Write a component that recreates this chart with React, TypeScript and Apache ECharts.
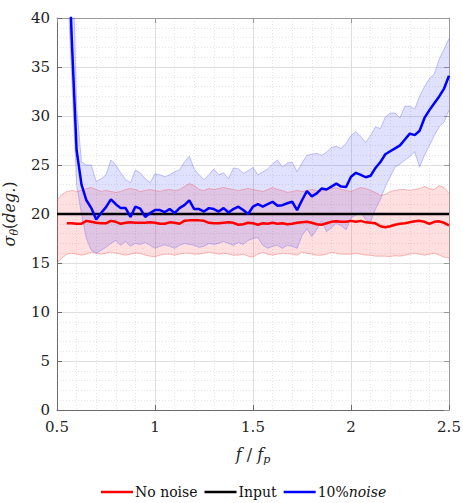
import React, { useEffect, useRef } from 'react';
import * as echarts from 'echarts';

const freqRatio = [
  0.5, 0.525, 0.55, 0.575, 0.6, 0.625, 0.65, 0.675, 0.7, 0.725,
  0.75, 0.775, 0.8, 0.825, 0.85, 0.875, 0.9, 0.925, 0.95, 0.975,
  1.0, 1.025, 1.05, 1.075, 1.1, 1.125, 1.15, 1.175, 1.2, 1.225,
  1.25, 1.275, 1.3, 1.325, 1.35, 1.375, 1.4, 1.425, 1.45, 1.475,
  1.5, 1.525, 1.55, 1.575, 1.6, 1.625, 1.65, 1.675, 1.7, 1.725,
  1.75, 1.775, 1.8, 1.825, 1.85, 1.875, 1.9, 1.925, 1.95, 1.975,
  2.0, 2.025, 2.05, 2.075, 2.1, 2.125, 2.15, 2.175, 2.2, 2.225,
  2.25, 2.275, 2.3, 2.325, 2.35, 2.375, 2.4, 2.425, 2.45, 2.475,
  2.5,
];

const noNoiseMean = [
  null, null, 19.05, 19.05, 19.0, 19.0, 19.3, 19.2, 19.1, 19.05,
  19.05, 19.3, 19.2, 19.0, 19.1, 19.15, 19.1, 19.1, 19.1, 19.15,
  19.1, 19.0, 19.0, 19.15, 19.1, 19.0, 19.3, 19.35, 19.35, 19.35,
  19.3, 19.1, 19.05, 19.05, 19.1, 19.15, 19.1, 18.9, 18.95, 19.1,
  19.05, 18.9, 19.05, 19.0, 19.1, 19.0, 19.05, 18.95, 19.0, 19.1,
  19.15, 19.2, 19.1, 18.95, 18.9, 19.05, 19.2, 19.25, 19.2, 19.2,
  19.3, 19.2, 19.3, 19.15, 19.1, 19.05, 18.75, 18.65, 18.75, 18.9,
  19.0, 19.05, 19.15, 19.25, 19.3, 19.2, 19.0, 19.2, 19.25, 19.1,
  18.85,
];
const noNoiseUpper = [
  21.4, 22.0, 22.3, 22.4, 22.3, 22.4, 22.6, 22.7, 22.5, 22.3,
  22.4, 22.3, 22.2, 22.3, 22.5, 22.6, 22.5, 22.3, 22.4, 22.5,
  22.4, 22.3, 22.45, 22.5, 22.4, 22.5, 22.8, 23.1, 22.9, 22.5,
  22.4, 22.6, 22.5, 22.6, 22.7, 22.6, 22.5, 22.4, 22.5, 22.6,
  22.5, 22.4, 22.3, 22.5, 22.7, 22.5, 22.4, 22.2, 22.3, 22.4,
  22.3, 22.4, 22.5, 22.4, 22.3, 22.5, 22.6, 22.7, 22.5, 22.4,
  22.3, 22.5, 22.7, 22.6, 22.4, 22.2, 21.9, 22.0, 22.3, 22.4,
  22.5, 22.5, 22.4, 22.5, 22.6, 22.8, 22.6, 22.5, 22.9, 22.7,
  22.1,
];
const noNoiseLower = [
  15.0, 15.5, 15.9, 16.0, 15.9, 15.8, 15.9, 16.1, 16.0, 15.9,
  16.0, 16.1, 16.0, 15.9, 15.8, 15.9, 16.0, 16.0, 15.8, 15.7,
  15.65, 15.8, 15.9, 15.9, 15.8, 15.9, 16.0, 16.0, 15.9, 15.9,
  16.0, 16.1, 16.0, 15.9, 16.0, 15.9, 15.8, 15.8, 15.9, 15.7,
  15.6, 15.9, 16.1, 15.9, 15.8, 15.9, 16.0, 15.95, 15.9, 15.8,
  16.1, 16.0, 15.9, 15.8, 15.8, 15.9, 16.1, 16.0, 15.9, 15.9,
  15.9, 16.0, 15.9, 15.8, 15.8, 15.7, 15.7, 15.7, 15.65, 15.75,
  15.7, 15.8, 15.9, 16.0, 15.9, 15.8, 15.9, 16.0, 15.8, 15.6,
  15.5,
];

const noiseMean = [
  null, null, 52, 38, 26.5, 23.0, 21.4, 20.6, 19.45, 20.1,
  20.7, 21.5, 21.0, 20.6, 20.6, 19.7, 20.75, 20.55, 19.7, 20.1,
  20.4, 20.4, 20.2, 20.5, 20.1, 20.6, 20.9, 21.4, 20.5, 20.5,
  20.25, 20.6, 20.5, 20.25, 20.6, 20.15, 20.5, 20.75, 20.4, 20.0,
  20.75, 21.0, 20.75, 21.0, 21.25, 20.85, 20.9, 21.1, 21.25, 20.4,
  21.4, 22.35, 21.8, 22.1, 22.6, 22.5, 22.8, 23.1, 22.8, 22.75,
  23.8, 24.2, 24.0, 23.75, 23.9, 24.7, 25.3, 26.1, 26.4, 26.7,
  27.0, 27.6, 28.2, 28.05, 28.5, 29.8, 30.6, 31.3, 32.0, 32.8,
  34.1,
];
const noiseUpper = [
  null, null, 65, 50, 31, 25.3, 25.0, 25.0, 23.3, 23.6,
  24.0, 25.5, 25.0, 24.2, 23.5, 23.2, 24.5, 24.2, 23.6, 23.2,
  24.1, 24.0, 23.8, 24.0, 24.3, 24.5, 25.3, 25.9, 24.6, 24.0,
  23.5, 24.0, 24.6, 24.0, 24.2, 23.6, 24.7, 24.6, 24.15, 24.4,
  24.75, 24.0, 24.3, 24.6, 25.1, 25.5, 24.8, 25.2, 25.3, 24.3,
  25.2, 26.0, 26.1, 26.2, 26.0, 26.3, 26.8, 26.9, 26.7, 27.2,
  28.0, 28.4, 27.9, 27.3, 28.0, 28.9, 28.7, 29.9, 30.3, 30.3,
  29.8, 31.0, 31.0, 30.7, 32.0, 33.0, 33.8, 34.3, 35.8, 36.8,
  37.9,
];
const noiseLower = [
  null, null, 45, 34, 23, 20, 17.5, 16.3, 16.0, 16.3,
  16.6, 17.0, 17.3, 16.8, 17.2, 16.7, 17.0, 16.9, 17.1, 16.8,
  16.5, 16.7, 16.85, 16.7, 16.5, 16.8, 17.0, 16.9, 16.8, 16.6,
  16.7, 17.0, 16.9, 17.0, 17.2, 17.0, 16.8, 17.1, 16.9, 17.3,
  17.5, 17.6, 16.8, 16.5, 16.7, 16.8, 16.5, 16.8, 16.7, 16.5,
  17.8, 18.5, 17.7, 18.4, 19.3, 18.2, 18.6, 19.05, 18.8, 18.4,
  19.6, 19.9, 20.2, 19.4, 19.2, 20.5, 21.5, 22.8, 23.8, 24.8,
  25.1, 25.5, 25.85, 26.35, 24.8, 26.0, 27.0, 28.0, 28.9, 29.4,
  30.6,
];

const inputLevel = 20;
const xRange = [0.5, 2.5];
const yRange = [0, 40];
const legendNames = ['No noise', 'Input', '10%noise'];

const SERIF = 'DejaVu Serif';

type Num = number | null;
const pairs = (arr: Num[]) => freqRatio.map((f, i) => [f, arr[i]]);

const bandSeries = (name: string, up: Num[], lo: Num[], fill: string) => ({
  name,
  type: 'custom',
  silent: true,
  z: 1,
  data: [[1.5, 20]],
  encode: { x: 0, y: 1 },
  renderItem: (params: any, api: any) => {
    const top: number[][] = [];
    const bottom: number[][] = [];
    freqRatio.forEach((f, i) => {
      if (up[i] == null || lo[i] == null) return;
      top.push(api.coord([f, up[i]]));
      bottom.push(api.coord([f, lo[i]]));
    });
    const points = top.concat(bottom.reverse());
    const cs = params.coordSys;
    return {
      type: 'polygon',
      shape: { points },
      style: { fill },
      clipPath: { type: 'rect', shape: { x: cs.x, y: cs.y, width: cs.width, height: cs.height } },
    };
  },
});

export default function App() {
  const ref = useRef<HTMLDivElement>(null);

  useEffect(() => {
    document.body.style.margin = '0';
    if (!ref.current) return;
    const chart = echarts.init(ref.current, undefined, { renderer: 'svg' });

    const axisColor = '#6a6a6a';
    const baseX = { type: 'value', min: xRange[0], max: xRange[1], interval: 0.5, gridIndex: 0 };
    const baseY = { type: 'value', min: yRange[0], max: yRange[1], interval: 5, gridIndex: 0 };
    const edge = (name: string, data: any[], color: string) => ({
      name,
      type: 'line',
      data,
      symbol: 'none',
      silent: true,
      lineStyle: { width: 0.8, color },
      z: 2,
    });

    chart.setOption({
      animation: false,
      backgroundColor: '#ffffff',
      textStyle: { fontFamily: SERIF },
      grid: { left: 57, top: 18, width: 392, height: 392, containLabel: false, outerBoundsMode: 'none' },
      legend: {
        data: legendNames,
        left: 96,
        top: 480,
        icon: 'rect',
        itemWidth: 32,
        itemHeight: 2.5,
        itemGap: 7,
        formatter: (name: string) => (name === '10%noise' ? '10%{i|noise}' : name),
        textStyle: {
          fontFamily: SERIF,
          fontSize: 14,
          color: '#111',
          padding: [0, 0, 0, -3],
          rich: { i: { fontFamily: SERIF, fontSize: 14, fontStyle: 'italic', color: '#111' } },
        },
      },
      xAxis: [
        {
          ...baseX,
          position: 'bottom',
          axisLine: { show: true, lineStyle: { color: axisColor, width: 1 } },
          axisTick: { show: true, inside: true, length: 5, lineStyle: { color: axisColor } },
          axisLabel: { color: '#222', fontFamily: SERIF, fontSize: 15, margin: 9 },
          splitLine: { show: true, lineStyle: { color: '#dedede', width: 1 } },
          minorTick: { show: false, splitNumber: 5 },
          minorSplitLine: { show: true, lineStyle: { color: '#e6e6e6', width: 1, type: [1, 2] } },
          name: '{i|f} / {i|f}{s|p}',
          nameLocation: 'middle',
          nameGap: 33,
          nameTextStyle: {
            color: '#222',
            fontFamily: SERIF,
            fontSize: 16,
            rich: {
              i: { fontFamily: SERIF, fontSize: 16, fontStyle: 'italic', color: '#222', lineHeight: 22 },
              s: { fontFamily: SERIF, fontSize: 11, fontStyle: 'italic', color: '#222', verticalAlign: 'bottom', lineHeight: 22, padding: [8, 0, 0, 0] },
            },
          },
        },
        {
          ...baseX,
          position: 'top',
          axisLine: { show: true, onZero: false, lineStyle: { color: '#9a9a9a', width: 1 } },
          axisTick: { show: true, inside: true, length: 5, lineStyle: { color: '#9a9a9a' } },
          axisLabel: { show: false },
          splitLine: { show: false },
        },
      ],
      yAxis: [
        {
          ...baseY,
          position: 'left',
          axisLine: { show: true, lineStyle: { color: axisColor, width: 1 } },
          axisTick: { show: true, inside: true, length: 5, lineStyle: { color: axisColor } },
          axisLabel: { color: '#222', fontFamily: SERIF, fontSize: 15, margin: 7 },
          splitLine: { show: true, lineStyle: { color: '#dedede', width: 1 } },
          minorTick: { show: false, splitNumber: 5 },
          minorSplitLine: { show: true, lineStyle: { color: '#e6e6e6', width: 1, type: [1, 2] } },
          name: '{i|σ}{s|θ}{n|(}{i|deg.}{n|)}',
          nameLocation: 'middle',
          nameGap: 32,
          nameTextStyle: {
            color: '#222',
            fontFamily: SERIF,
            fontSize: 16,
            rich: {
              i: { fontFamily: SERIF, fontSize: 16, fontStyle: 'italic', color: '#222', lineHeight: 22 },
              n: { fontFamily: SERIF, fontSize: 16, color: '#222', lineHeight: 22 },
              s: { fontFamily: SERIF, fontSize: 11, fontStyle: 'italic', color: '#222', verticalAlign: 'bottom', lineHeight: 22, padding: [8, 0, 0, 0] },
            },
          },
        },
        {
          ...baseY,
          position: 'right',
          axisLine: { show: true, onZero: false, lineStyle: { color: '#9a9a9a', width: 1 } },
          axisTick: { show: true, inside: true, length: 5, lineStyle: { color: '#9a9a9a' } },
          axisLabel: { show: false },
          splitLine: { show: false },
        },
      ],
      series: [
        bandSeries('nnBand', noNoiseUpper, noNoiseLower, 'rgba(255, 40, 40, 0.15)'),
        bandSeries('nzBand', noiseUpper, noiseLower, 'rgba(50, 50, 255, 0.15)'),
        edge('nnUp', pairs(noNoiseUpper), 'rgba(240, 90, 90, 0.5)'),
        edge('nnLo', pairs(noNoiseLower), 'rgba(240, 90, 90, 0.5)'),
        edge('nzUp', pairs(noiseUpper), 'rgba(110, 110, 245, 0.5)'),
        edge('nzLo', pairs(noiseLower), 'rgba(110, 110, 245, 0.5)'),
        {
          name: 'No noise',
          type: 'line',
          data: pairs(noNoiseMean),
          symbol: 'none',
          lineStyle: { color: '#ff0000', width: 2.5 },
          itemStyle: { color: '#ff0000' },
          z: 3,
        },
        {
          name: 'Input',
          type: 'line',
          data: [[xRange[0], inputLevel], [xRange[1], inputLevel]],
          symbol: 'none',
          lineStyle: { color: '#000000', width: 2.5 },
          itemStyle: { color: '#000000' },
          z: 4,
        },
        {
          name: '10%noise',
          type: 'line',
          data: pairs(noiseMean),
          symbol: 'none',
          lineStyle: { color: '#0000ff', width: 2.5 },
          itemStyle: { color: '#0000ff' },
          z: 5,
        },
      ],
    });

    return () => chart.dispose();
  }, []);

  return <div ref={ref} style={{ width: 463, height: 503 }} />;
}
